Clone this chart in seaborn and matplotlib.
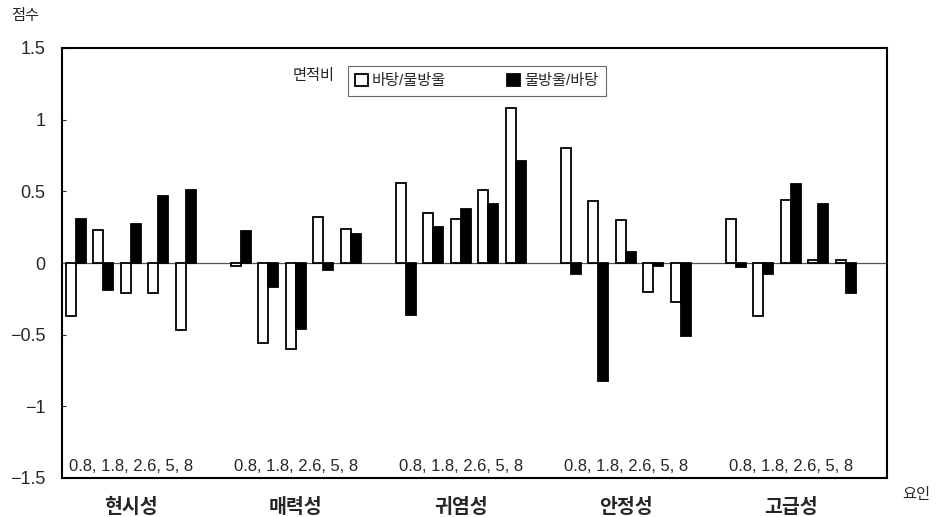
import matplotlib
matplotlib.use("Agg")
import matplotlib.pyplot as plt
import matplotlib.transforms as mtransforms
import seaborn as sns
import pandas as pd

# ---- data ----
factors = ["현시성", "매력성", "귀염성", "안정성", "고급성"]
ratios = ["0.8", "1.8", "2.6", "5", "8"]
series_names = ["바탕/물방울", "물방울/바탕"]
bg_drop = [  # 바탕/물방울 (white bars)
    [-0.37, 0.23, -0.21, -0.21, -0.47],
    [-0.02, -0.56, -0.60, 0.32, 0.24],
    [0.56, 0.35, 0.31, 0.51, 1.08],
    [0.80, 0.43, 0.30, -0.20, -0.27],
    [0.31, -0.37, 0.44, 0.02, 0.02],
]
drop_bg = [  # 물방울/바탕 (black bars)
    [0.31, -0.19, 0.27, 0.47, 0.51],
    [0.22, -0.17, -0.46, -0.05, 0.20],
    [-0.36, 0.25, 0.38, 0.41, 0.71],
    [-0.08, -0.82, 0.08, -0.02, -0.51],
    [-0.03, -0.08, 0.55, 0.41, -0.21],
]
ratio_label = "0.8, 1.8, 2.6, 5, 8"
yticks = [1.5, 1, 0.5, 0, -0.5, -1, -1.5]
ytick_labels = ["1.5", "1", "0.5", "0", "\u22120.5", "\u22121", "\u22121.5"]

rows = []
order = []
for fi, f in enumerate(factors):
    for ri, r in enumerate(ratios):
        key = f"{f}|{r}"
        order.append(key)
        rows.append({"slot": key, "series": series_names[0], "score": bg_drop[fi][ri]})
        rows.append({"slot": key, "series": series_names[1], "score": drop_bg[fi][ri]})
    order.append(f"{f}|gap")
df = pd.DataFrame(rows)

sns.set_style("white")
plt.rcParams["font.family"] = ["Liberation Sans", "Noto Sans CJK KR", "DejaVu Sans"]

fig = plt.figure(figsize=(9.37, 5.17), dpi=100)
ax = fig.add_axes([62 / 937, 1 - 478 / 517, 825 / 937, 430 / 517])

sns.barplot(data=df, x="slot", y="score", hue="series", order=order,
            hue_order=series_names, palette=["white", "black"],
            edgecolor="black", linewidth=1.3, width=0.72, errorbar=None,
            ax=ax, zorder=3)

ax.axhline(0, color="#555555", lw=0.9, zorder=2)
ax.set_ylim(-1.5, 1.5)
ax.set_xlim(-0.5, len(order) - 0.5)
ax.set_yticks(yticks)
ax.set_yticklabels(ytick_labels, fontsize=13)
ax.tick_params(axis="y", length=3, direction="in", width=0.8, pad=12,
               left=True)
ax.set_xticks([])
ax.set_xlabel("")
ax.set_ylabel("")
for s in ax.spines.values():
    s.set_visible(True)
    s.set_color("black")
    s.set_linewidth(1.5)

trans = mtransforms.blended_transform_factory(ax.transData, ax.transAxes)
for fi, f in enumerate(factors):
    cx = fi * 6 + 2
    ax.text(cx, 0.027, ratio_label, transform=trans, ha="center", va="center",
            fontsize=12)
    ax.text(cx, -0.068, f, transform=trans, ha="center", va="center",
            fontsize=14, fontweight="bold")

fig.text(25 / 937, 1 - 16 / 517, "점수", ha="center", va="center", fontsize=11)
fig.text(916 / 937, 1 - 495 / 517, "요인", ha="center", va="center", fontsize=11)

ax.text(0.33, 0.935, "면적비", transform=ax.transAxes, ha="right", va="center",
        fontsize=11)
leg = ax.legend(loc="upper left", bbox_to_anchor=(0.337, 0.975), ncol=2,
                frameon=True, fancybox=False, edgecolor="#444444",
                fontsize=11, handlelength=0.8, handleheight=0.8,
                handletextpad=0.3, columnspacing=4.0, borderpad=0.5,
                title=None)
leg.get_frame().set_linewidth(0.8)

fig.savefig("out.png", dpi=100, facecolor="white")
